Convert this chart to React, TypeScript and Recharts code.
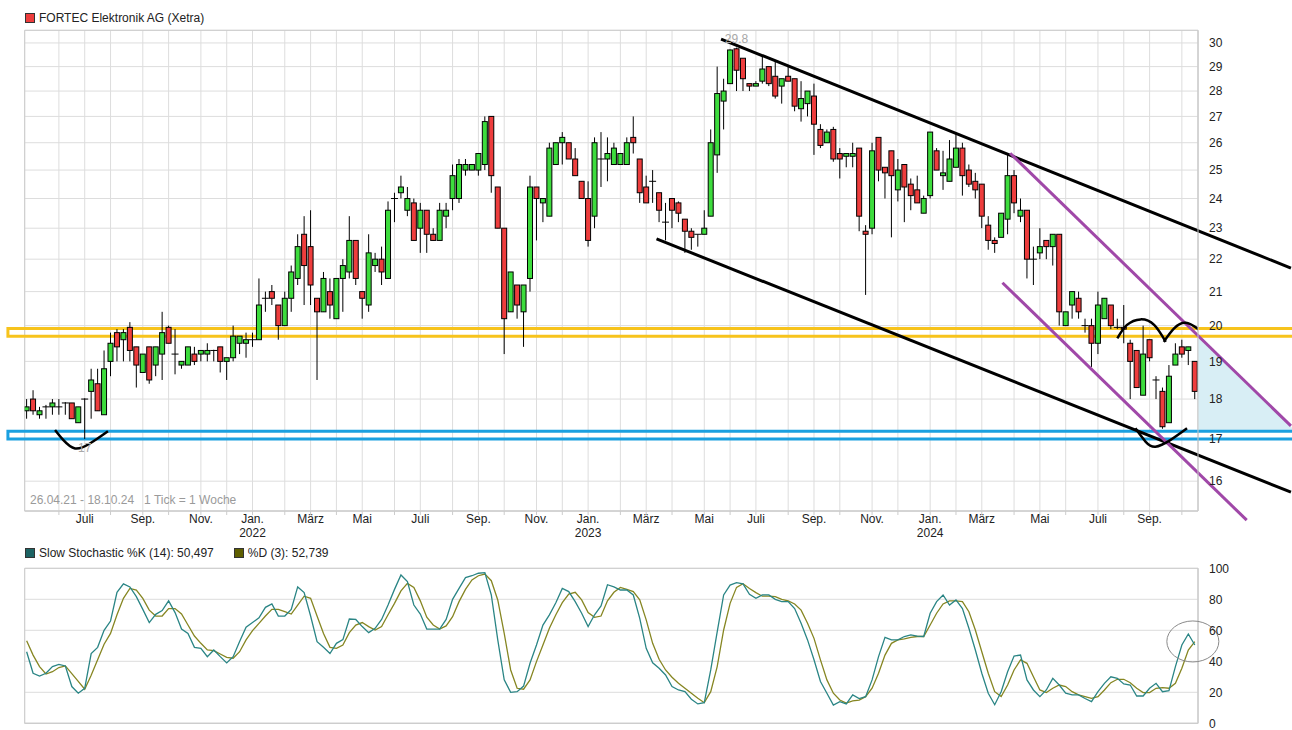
import React from "react";
import {
  Bar,
  CartesianGrid,
  ComposedChart,
  Line,
  ReferenceArea,
  ReferenceDot,
  ReferenceLine,
  XAxis,
  YAxis,
} from "recharts";

// weekly candles, 26.04.21 - 18.10.24 (182 weeks)
const OPEN = [
  17.7, 18.0, 17.6, 17.8, 17.8, 17.8, 17.9, 17.9, 17.4, 18.0,
  18.2, 18.4, 17.6, 19.0, 19.8, 19.6, 19.95, 19.4, 18.7, 19.4,
  18.9, 19.2, 19.95, 19.2, 18.9, 18.9, 19.2, 19.2, 19.2, 19.3,
  19.4, 19.0, 19.1, 19.5, 19.5, 19.6, 19.6, 20.8, 21.0, 20.6,
  20.0, 20.8, 21.4, 22.8, 22.4, 20.8, 20.4, 21.0, 20.2, 21.4,
  21.6, 22.6, 21.0, 20.6, 21.8, 22.0, 21.4, 24.0, 24.2, 23.6,
  23.85, 23.0, 23.6, 22.8, 22.6, 23.4, 24.0, 24.0, 25.0, 25.0,
  25.0, 25.2, 27.0, 24.4, 23.0, 20.4, 21.2, 20.4, 21.4, 24.4,
  23.85, 23.4, 25.2, 26.0, 26.0, 25.4, 24.6, 24.0, 23.4, 25.4,
  25.4, 25.2, 25.2, 25.2, 26.2, 25.4, 24.4, 24.6, 24.2, 23.2,
  24.0, 23.85, 23.3, 22.9, 22.8, 22.8, 23.4, 25.55, 27.6, 28.3,
  29.75, 29.35, 28.3, 28.2, 28.4, 29.0, 28.6, 28.2, 28.6, 28.5,
  27.3, 27.5, 27.8, 26.5, 26.0, 26.5, 25.6, 25.5, 25.5, 25.8,
  22.9, 23.0, 26.2, 25.1, 25.7, 24.3, 25.2, 24.5, 24.3, 23.5,
  24.1, 25.7, 24.8, 24.6, 25.1, 25.8, 25.0, 24.6, 24.5, 23.1,
  22.6, 22.7, 23.3, 24.8, 23.4, 23.6, 22.0, 22.2, 22.6, 22.4,
  22.8, 20.0, 20.6, 20.8, 20.0, 20.0, 19.5, 20.2, 20.6, 19.95,
  19.95, 19.5, 19.3, 18.1, 19.6, 18.5, 18.2, 17.4, 18.9, 19.4,
  19.3, 19.0,
];
const HIGH = [
  18.0, 18.23, 17.8, 17.85, 18.0, 18.0, 17.92, 17.9, 17.8, 18.02,
  18.8, 18.8, 19.3, 19.8, 19.9, 19.9, 20.1, 19.4, 19.2, 19.4,
  19.4, 20.4, 20.0, 19.9, 19.0, 19.4, 19.4, 19.3, 19.5, 19.32,
  19.4, 19.1, 20.0, 19.7, 19.8, 19.8, 21.4, 21.0, 21.2, 20.6,
  21.0, 21.8, 22.8, 23.4, 23.6, 20.8, 21.6, 21.4, 21.4, 22.0,
  23.4, 22.6, 21.0, 22.8, 22.2, 22.4, 23.9, 24.2, 24.8, 24.4,
  24.0, 23.85, 23.6, 23.0, 23.85, 23.85, 25.2, 25.4, 25.4, 25.2,
  25.6, 27.0, 27.0, 24.4, 23.0, 21.6, 21.2, 21.2, 24.8, 24.4,
  24.0, 26.0, 26.0, 26.4, 26.0, 25.8, 24.6, 24.6, 26.2, 26.4,
  26.2, 26.0, 25.6, 26.2, 27.0, 25.4, 24.8, 25.0, 24.2, 23.85,
  24.0, 23.9, 23.3, 23.0, 22.8, 23.6, 26.5, 29.0, 28.5, 29.72,
  29.8, 29.35, 28.3, 28.4, 29.45, 29.0, 29.2, 28.5, 29.0, 28.5,
  28.4, 28.0, 28.3, 26.7, 26.5, 26.6, 25.8, 25.6, 26.0, 25.8,
  23.1, 26.0, 26.2, 25.1, 25.7, 25.4, 25.2, 24.7, 24.8, 24.1,
  26.4, 25.8, 25.7, 26.1, 26.35, 26.0, 25.2, 24.9, 24.5, 23.4,
  22.7, 23.5, 25.6, 25.0, 24.0, 23.6, 22.4, 23.0, 22.6, 22.8,
  22.8, 20.4, 21.0, 21.0, 20.2, 20.2, 21.0, 20.8, 20.6, 20.2,
  20.6, 19.6, 19.3, 20.0, 19.6, 18.6, 18.3, 18.9, 19.5, 19.6,
  19.4, 19.0,
];
const LOW = [
  17.5, 17.6, 17.5, 17.5, 17.6, 17.6, 17.6, 17.5, 17.4, 17.0,
  17.5, 17.7, 17.6, 18.6, 19.0, 19.0, 19.0, 18.3, 18.7, 18.4,
  18.6, 18.5, 19.5, 18.65, 18.8, 18.9, 18.9, 19.0, 19.0, 19.0,
  18.7, 18.5, 19.0, 19.2, 19.1, 19.4, 19.6, 20.4, 20.6, 19.6,
  20.0, 20.4, 21.2, 20.6, 20.6, 18.5, 20.4, 20.2, 20.2, 20.4,
  21.4, 21.2, 20.2, 20.4, 21.6, 21.2, 21.4, 23.2, 24.0, 23.4,
  22.6, 22.2, 22.2, 22.6, 22.6, 23.0, 23.6, 23.85, 24.8, 25.0,
  24.8, 25.0, 24.2, 23.0, 19.2, 20.4, 20.2, 19.4, 21.0, 22.6,
  23.2, 23.4, 25.2, 25.2, 25.4, 24.8, 24.0, 22.4, 23.0, 24.4,
  24.6, 25.2, 25.2, 25.2, 25.6, 23.85, 23.85, 23.85, 23.2, 22.6,
  23.0, 23.2, 22.2, 22.3, 22.4, 22.8, 23.4, 24.9, 26.5, 28.3,
  28.0, 28.0, 28.0, 28.2, 28.3, 28.2, 27.7, 27.5, 28.4, 27.2,
  26.8, 27.0, 25.55, 25.8, 26.0, 25.3, 24.7, 25.1, 25.1, 22.9,
  20.9, 22.8, 24.6, 24.0, 22.7, 23.9, 23.2, 23.6, 23.85, 23.5,
  24.0, 25.0, 24.3, 24.6, 25.1, 24.1, 24.4, 24.0, 23.0, 22.3,
  22.2, 22.7, 22.8, 23.5, 23.2, 21.4, 21.2, 22.0, 22.0, 21.8,
  20.0, 20.0, 20.2, 20.2, 19.8, 18.85, 19.2, 20.2, 19.9, 19.9,
  19.5, 18.0, 18.3, 18.1, 19.0, 18.0, 17.25, 17.4, 18.9, 19.1,
  18.9, 18.0,
];
const CLOSE = [
  17.8, 17.7, 17.7, 17.8, 17.9, 17.8, 17.9, 17.5, 17.8, 18.0,
  18.5, 17.7, 18.8, 19.5, 19.4, 19.8, 19.3, 18.9, 19.2, 18.5,
  19.4, 19.8, 19.5, 19.2, 19.0, 19.4, 19.0, 19.3, 19.3, 19.3,
  19.0, 19.1, 19.7, 19.7, 19.6, 19.6, 20.6, 20.8, 20.8, 20.0,
  20.8, 21.6, 22.4, 21.8, 21.2, 20.4, 21.4, 20.6, 21.4, 21.8,
  22.6, 21.4, 20.8, 22.2, 22.0, 21.6, 23.6, 24.0, 24.4, 24.0,
  22.6, 23.6, 22.8, 22.6, 23.6, 23.6, 24.8, 25.2, 25.2, 25.2,
  25.6, 26.8, 24.8, 23.0, 20.2, 21.6, 20.6, 21.2, 24.4, 24.0,
  24.0, 25.8, 26.0, 26.2, 25.4, 24.8, 24.0, 22.6, 26.0, 25.4,
  25.6, 25.8, 25.6, 26.0, 26.0, 24.2, 23.85, 24.6, 23.6, 23.2,
  23.6, 23.5, 22.9, 22.7, 22.8, 23.0, 26.0, 27.9, 28.0, 29.7,
  28.85, 28.5, 28.2, 28.3, 28.9, 28.3, 27.8, 28.5, 28.4, 27.4,
  27.7, 28.0, 26.7, 25.9, 26.4, 25.4, 25.4, 25.6, 25.6, 23.4,
  22.8, 25.7, 25.0, 24.9, 24.8, 25.0, 24.4, 24.1, 23.85, 24.0,
  26.4, 25.0, 24.9, 25.4, 25.8, 24.8, 24.5, 24.3, 23.4, 22.6,
  22.5, 23.5, 24.8, 23.85, 23.6, 22.0, 22.0, 22.4, 22.4, 22.8,
  20.4, 20.4, 21.0, 20.4, 20.0, 19.5, 20.6, 20.8, 20.0, 19.95,
  19.9, 19.0, 18.3, 19.2, 19.1, 18.5, 17.3, 18.6, 19.2, 19.2,
  19.4, 18.2,
];

// Slow Stochastic %K (14) and %D (3)
const STOCH_K = [
  46.2, 32.3, 30.5, 32.3, 36.6, 38, 37, 23.7, 19.4, 22.6,
  45, 49, 60, 66, 84.5, 90, 88, 81.7, 73.5, 65,
  70.3, 72.7, 79, 71.4, 60.8, 58, 49, 48.4, 43, 47.3,
  43, 39, 43, 52.7, 62, 65, 68, 74.8, 77, 69.2,
  69.2, 73.5, 88, 84.3, 69.2, 52.7, 49, 45, 51.6, 54,
  67.3, 67, 62.4, 58.5, 61.3, 67, 76.3, 86.4, 95.7, 91.4,
  76.3, 70.5, 60.8, 60.8, 60.8, 67, 80, 87, 94, 95.2,
  96.8, 97.2, 82.8, 53.8, 28, 20, 20.4, 24, 38.7, 50.5,
  63.4, 70, 77.8, 87, 85, 78.5, 71, 62.4, 70, 75.7,
  89.4, 88, 86, 86, 82.8, 67.7, 48.4, 39, 35.5, 31.2,
  23.7, 21.5, 20.4, 15.5, 12.5, 13.3, 34.4, 59, 82.8, 89.2,
  90.7, 90, 83.2, 80.6, 82.8, 82.8, 80, 78.5, 78.5, 74,
  64.5, 53.8, 41, 27, 19.4, 11.8, 14, 12.5, 18.3, 16,
  17.2, 28, 43, 55.5, 53.8, 53.8, 56, 57, 56.3, 56,
  71, 78.5, 82.8, 76.3, 79.6, 74, 61.3, 47.3, 32.3, 19.4,
  12, 20.4, 33.3, 43.4, 44, 28, 21.5, 17.2, 21.5, 29,
  24.7, 19.4, 18.3, 18.3, 16, 14, 20.4, 25.8, 30, 29,
  25.4, 24.7, 17.6, 17.6, 22.6, 25.8, 20.4, 21, 36.6, 50.5,
  57.6, 50.5,
];
const STOCH_D = [
  53.3, 44, 36.6, 31.8, 33.3, 36, 37, 32, 27, 22,
  31, 41, 51, 58, 70, 80.6, 87, 86, 80.6, 73,
  69.2, 69.2, 74, 74, 70.5, 63.4, 56.3, 51.6, 47.3, 46.9,
  44.7, 42.6, 42, 46.2, 53.8, 59.8, 64.5, 69.2, 73.5, 73.5,
  72, 70.5, 76.3, 82, 80.6, 69.2, 58, 49, 48.4, 50.5,
  58.5, 63.4, 65, 62.4, 60.2, 62.4, 70, 77.4, 85.4, 90.3,
  87.7, 79, 68.4, 63.4, 60.8, 62.8, 68.8, 78.5, 86.4, 92.5,
  95.2, 96.3, 92, 79.6, 58, 34.4, 22.6, 22, 28, 39.8,
  50.5, 61.3, 70, 77.8, 83.4, 84.5, 79.6, 71.4, 68.4, 69.2,
  79, 84.5, 87.7, 86.4, 85, 79.6, 66.7, 51.6, 41.3, 34.4,
  29.7, 25.8, 22.6, 19.4, 16.1, 13.3, 20.4, 36.6, 60.2, 77.4,
  87.7, 90, 87, 84.3, 82, 82, 81.7, 80, 79, 77,
  73, 64.5, 54.8, 40.9, 28, 19.4, 15, 13, 14.4, 15,
  17.2, 22.6, 32.3, 44, 51.6, 53.8, 54.4, 55.5, 56, 56,
  63.4, 71, 77, 79, 79, 78.5, 72, 60.2, 46.2, 32.3,
  20.4, 17.2, 24.7, 34.4, 40.9, 38.7, 30, 21.5, 19.8, 22.6,
  24.7, 23.7, 20.4, 18.3, 17.2, 16.1, 17.2, 21.5, 26.2, 28.4,
  28.4, 26.2, 22.6, 19.8, 19.8, 22.6, 23, 22.6, 25.8, 35.5,
  47.3, 52.7,
];

// week index of the first of each month, with its label
const MONTH_IDX = [
  5, 9, 13, 18, 22, 27, 31, 35, 40, 44, 48, 52, 57, 61, 66, 70, 74, 79, 83, 87,
  92, 96, 100, 105, 109, 113, 118, 122, 126, 131, 135, 140, 144, 148, 153, 157,
  161, 166, 170, 174, 179,
];
const MONTH_LABEL = [
  "", "Juli", "", "Sep.", "", "Nov.", "", "Jan.", "", "März", "", "Mai",
  "", "Juli", "", "Sep.", "", "Nov.", "", "Jan.", "", "März", "", "Mai",
  "", "Juli", "", "Sep.", "", "Nov.", "", "Jan.", "", "März", "", "Mai",
  "", "Juli", "", "Sep.", "",
];
const YEAR_LABEL: Record<number, string> = { 35: "2022", 87: "2023", 140: "2024" };

const PRICE_TICKS = [16, 17, 18, 19, 20, 21, 22, 23, 24, 25, 26, 27, 28, 29, 30];
const STOCH_TICKS = [0, 20, 40, 60, 80, 100];

// drawings: [week index, price]
const BLACK_LINES = [
  [[107.6, 30.17], [195.9, 21.72]],
  [[97.6, 22.65], [195.9, 15.75]],
];
const PURPLE_LINES = [
  [[152.4, 25.61], [195.9, 17.32]],
  [[151.2, 21.27], [189.05, 15.13]],
];
const ARCS = [
  [[4.4, 17.22], [5.7, 16.97], [7.5, 16.77], [9.8, 16.89], [12.6, 17.19]],
  [[171.8, 17.26], [173.4, 16.93], [174.9, 16.81], [177.2, 16.97], [179.8, 17.26]],
  [[169.0, 19.64], [170.5, 20.02], [172.6, 20.18], [174.7, 20.02], [176.5, 19.54]],
  [[176.2, 19.54], [177.8, 19.92], [179.6, 20.08], [181.4, 19.92], [182.4, 19.78]],
];
const YELLOW_BAND = [19.7, 19.92];
const BLUE_BAND = [17.0, 17.19];

const X_DOMAIN = [-0.3, 181.5];
const Y_DOMAIN = [15.33, 30.55];

const data = OPEN.map((o, i) => ({
  i,
  o,
  h: HIGH[i],
  l: LOW[i],
  c: CLOSE[i],
  k: STOCH_K[i],
  d: STOCH_D[i],
}));

const FONT = "'Liberation Sans', Arial, sans-serif";
const GRID = "#dddddd";
const BODY_W = 5;

function Candle(props: any) {
  const { x, y, width, height, payload } = props;
  if (x == null || !payload) return null;
  const top = Math.min(y, y + height);
  const bottom = Math.max(y, y + height);
  const lh = Math.log(payload.h);
  const ll = Math.log(payload.l);
  const toY = (v: number) =>
    lh === ll ? top : top + ((lh - Math.log(v)) / (lh - ll)) * (bottom - top);
  const cx = x + (width || 0) / 2;
  const left = cx - BODY_W / 2;
  const yo = toY(payload.o);
  const yc = toY(payload.c);
  const doji = Math.abs(payload.o - payload.c) < 0.02;
  return (
    <g>
      <line x1={cx} x2={cx} y1={top} y2={bottom} stroke="#000" strokeWidth={1} />
      {doji ? (
        <line x1={left - 1} x2={left + BODY_W + 1} y1={yo} y2={yo} stroke="#000" strokeWidth={1} />
      ) : (
        <rect
          x={left}
          y={Math.min(yo, yc)}
          width={BODY_W}
          height={Math.max(Math.abs(yo - yc), 1)}
          fill={payload.c > payload.o ? "#3ddc3d" : "#ee3d3d"}
          stroke="#000"
          strokeWidth={1}
        />
      )}
    </g>
  );
}

function MonthTick(props: any) {
  const { x, y, payload } = props;
  const label = MONTH_LABEL[MONTH_IDX.indexOf(payload.value)];
  if (!label) return null;
  const year = YEAR_LABEL[payload.value];
  return (
    <g fontFamily={FONT} fontSize={12} fill="#222">
      <text x={x} y={y} dy={6} textAnchor="middle">
        {label}
      </text>
      {year && (
        <text x={x} y={y} dy={20} textAnchor="middle">
          {year}
        </text>
      )}
    </g>
  );
}

const legendBox = (color: string): React.CSSProperties => ({
  display: "inline-block",
  width: 8,
  height: 8,
  background: color,
  border: "1px solid #333",
  marginRight: 4,
  verticalAlign: "-1px",
});

export default function App() {
  return (
    <div style={{ position: "relative", width: 1292, height: 730, fontFamily: FONT, background: "#fff" }}>
      <style>{"body{margin:0}"}</style>

      <div style={{ position: "absolute", left: 25, top: 11, fontSize: 12, color: "#222" }}>
        <span style={legendBox("#ee3d3d")} />
        FORTEC Elektronik AG (Xetra)
      </div>

      <div style={{ position: "absolute", left: 0, top: 0 }}>
        <ComposedChart
          width={1292}
          height={551}
          data={data}
          margin={{ top: 30.3, right: 54, left: 24.7, bottom: 0 }}
        >
          <CartesianGrid stroke={GRID} />
          <XAxis
            dataKey="i"
            type="number"
            domain={X_DOMAIN}
            allowDataOverflow
            ticks={MONTH_IDX}
            interval={0}
            height={40}
            tickSize={4}
            tickMargin={2}
            tickLine={{ stroke: "#cccccc" }}
            axisLine={{ stroke: "#cccccc" }}
            tick={<MonthTick />}
          />
          <YAxis
            orientation="right"
            scale="log"
            domain={Y_DOMAIN}
            allowDataOverflow
            ticks={PRICE_TICKS}
            interval={0}
            width={40}
            tickLine={false}
            tickMargin={5}
            axisLine={{ stroke: "#cccccc" }}
            tick={{ fontSize: 12, fill: "#222", fontFamily: FONT }}
          />
          <ReferenceArea
            x1={X_DOMAIN[0]}
            x2={X_DOMAIN[1]}
            y1={Y_DOMAIN[0]}
            y2={Y_DOMAIN[1]}
            fill="none"
            stroke="#cccccc"
            fillOpacity={0}
          />
          <ReferenceArea
            x1={181.5}
            x2={196.6}
            y1={BLUE_BAND[1]}
            y2={19.74}
            ifOverflow="visible"
            shape={(p: any) => (
              <polygon
                points={`${p.x},${p.y} ${p.x + p.width},${p.y + p.height} ${p.x},${p.y + p.height}`}
                fill="#d8eef5"
              />
            )}
          />
          <Bar
            dataKey={(d: any) => [d.l, d.h]}
            barSize={5}
            shape={(p: any) => <Candle {...p} />}
            isAnimationActive={false}
          />
          <ReferenceArea
            x1={-2.9}
            x2={197}
            y1={YELLOW_BAND[0]}
            y2={YELLOW_BAND[1]}
            fill="none"
            fillOpacity={0}
            stroke="#f7c31c"
            strokeWidth={3}
            ifOverflow="visible"
          />
          <ReferenceArea
            x1={-2.9}
            x2={197}
            y1={BLUE_BAND[0]}
            y2={BLUE_BAND[1]}
            fill="none"
            fillOpacity={0}
            stroke="#1aa0e0"
            strokeWidth={3}
            ifOverflow="visible"
          />
          {BLACK_LINES.map((s, n) => (
            <ReferenceLine
              key={`b${n}`}
              segment={[{ x: s[0][0], y: s[0][1] }, { x: s[1][0], y: s[1][1] }]}
              stroke="#000"
              strokeWidth={3}
              ifOverflow="visible"
            />
          ))}
          {PURPLE_LINES.map((s, n) => (
            <ReferenceLine
              key={`p${n}`}
              segment={[{ x: s[0][0], y: s[0][1] }, { x: s[1][0], y: s[1][1] }]}
              stroke="#a048a8"
              strokeWidth={3}
              ifOverflow="visible"
            />
          ))}
          {ARCS.map((a, n) => (
            <Line
              key={`a${n}`}
              data={a.map(([i, p]) => ({ i, p }))}
              dataKey="p"
              type="natural"
              stroke="#000"
              strokeWidth={2.5}
              dot={false}
              activeDot={false}
              isAnimationActive={false}
            />
          ))}
          <ReferenceDot
            x={110}
            y={29.8}
            r={0}
            fill="none"
            stroke="none"
            label={{ value: "29.8", position: "top", fill: "#a8a8a8", fontSize: 12, fontFamily: FONT }}
          />
          <ReferenceDot
            x={9}
            y={17.0}
            r={0}
            fill="none"
            stroke="none"
            label={{ value: "17", position: "bottom", fill: "#a8a8a8", fontSize: 12, fontFamily: FONT }}
          />
        </ComposedChart>
      </div>

      <div
        style={{
          position: "absolute",
          left: 30,
          top: 493,
          fontSize: 12,
          color: "#9a9a9a",
          whiteSpace: "pre",
        }}
      >
        {"26.04.21 - 18.10.24   1 Tick = 1 Woche"}
      </div>

      <div style={{ position: "absolute", left: 25, top: 546, fontSize: 12, color: "#222", whiteSpace: "pre" }}>
        <span style={legendBox("#1d6363")} />
        {"Slow Stochastic %K (14): 50,497"}
        <span style={{ display: "inline-block", width: 20 }} />
        <span style={legendBox("#5e5e00")} />
        {"%D (3): 52,739"}
      </div>

      <div style={{ position: "absolute", left: 0, top: 540 }}>
        <ComposedChart
          width={1292}
          height={190}
          data={data}
          margin={{ top: 28.3, right: 54, left: 24.7, bottom: 0 }}
        >
          <CartesianGrid stroke={GRID} />
          <XAxis
            dataKey="i"
            type="number"
            domain={X_DOMAIN}
            allowDataOverflow
            ticks={MONTH_IDX}
            interval={0}
            height={6.7}
            tick={false}
            tickLine={false}
            axisLine={{ stroke: "#cccccc" }}
          />
          <YAxis
            orientation="right"
            type="number"
            domain={[0, 100]}
            ticks={STOCH_TICKS}
            interval={0}
            width={40}
            tickLine={false}
            tickMargin={5}
            axisLine={{ stroke: "#cccccc" }}
            tick={{ fontSize: 12, fill: "#222", fontFamily: FONT }}
          />
          <ReferenceArea
            x1={X_DOMAIN[0]}
            x2={X_DOMAIN[1]}
            y1={0}
            y2={100}
            fill="none"
            fillOpacity={0}
            stroke="#cccccc"
          />
          <Line
            dataKey="d"
            type="linear"
            stroke="#868622"
            strokeWidth={1.3}
            dot={false}
            activeDot={false}
            isAnimationActive={false}
          />
          <Line
            dataKey="k"
            type="linear"
            stroke="#2a8585"
            strokeWidth={1.3}
            dot={false}
            activeDot={false}
            isAnimationActive={false}
          />
          <ReferenceDot
            x={180.7}
            y={52.8}
            r={0}
            ifOverflow="visible"
            shape={(p: any) => (
              <ellipse cx={p.cx} cy={p.cy} rx={26} ry={20.5} fill="none" stroke="#8a8a8a" strokeWidth={1} />
            )}
          />
        </ComposedChart>
      </div>
    </div>
  );
}
